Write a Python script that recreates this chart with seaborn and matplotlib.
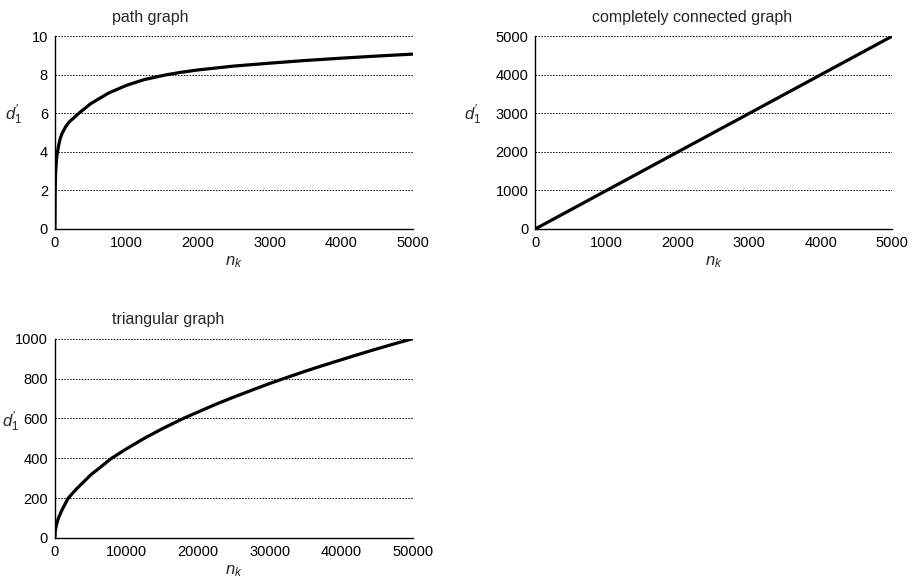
import matplotlib
matplotlib.use("Agg")
import matplotlib.pyplot as plt
import seaborn as sns
import pandas as pd

# --- data ---
path_n = [1, 3, 5, 10, 20, 30, 50, 75, 100, 150, 200, 350, 500, 750, 1000, 1250, 1560, 1750,
          2000, 2500, 3000, 3500, 4000, 4500, 5000]
path_d = [0.0, 1.5, 2.2, 2.9, 3.5, 3.85, 4.3, 4.7, 4.95, 5.3, 5.55, 6.05, 6.5, 7.05, 7.45, 7.75, 8.0, 8.12,
          8.25, 8.45, 8.6, 8.74, 8.86, 8.97, 9.07]

full_n = [0, 1000, 2000, 3000, 4000, 5000]
full_d = [0, 1000, 2000, 3000, 4000, 5000]

tri_n = [0, 50, 100, 200, 500, 1000, 1870, 3000, 5000, 7930, 10000, 12500, 15000, 17960, 20000,
         22500, 25000, 28000, 30000, 32000, 35000, 37500, 40000, 42500, 45000, 47500, 50000]
tri_d = [0, 32, 45, 63, 100, 141, 200, 245, 316, 400, 447, 500, 548, 600, 632,
         671, 707, 748, 775, 800, 837, 866, 894, 922, 949, 975, 1000]

titles = ["path graph", "completely connected graph", "triangular graph"]
x_ticks = [[0, 1000, 2000, 3000, 4000, 5000],
           [0, 1000, 2000, 3000, 4000, 5000],
           [0, 10000, 20000, 30000, 40000, 50000]]
y_ticks = [[0, 2, 4, 6, 8, 10],
           [0, 1000, 2000, 3000, 4000, 5000],
           [0, 200, 400, 600, 800, 1000]]

sns.set_style("white")
plt.rcParams["font.family"] = ["Liberation Sans", "DejaVu Sans"]
plt.rcParams["mathtext.fontset"] = "custom"
plt.rcParams["mathtext.it"] = "Liberation Sans:italic"
plt.rcParams["mathtext.rm"] = "Liberation Sans"

fig = plt.figure(figsize=(9.15, 5.84), dpi=100)
axes = [
    fig.add_axes([0.060, 0.608, 0.391, 0.330]),
    fig.add_axes([0.585, 0.608, 0.390, 0.330]),
    fig.add_axes([0.060, 0.079, 0.391, 0.341]),
]
datasets = [(path_n, path_d), (full_n, full_d), (tri_n, tri_d)]
ylab_off = [-0.115, -0.175, -0.125]
ylab_y = [0.53, 0.53, 0.52]

for i, ax in enumerate(axes):
    n, d = datasets[i]
    df = pd.DataFrame({"n": n, "d": d})
    sns.lineplot(data=df, x="n", y="d", ax=ax, color="black", linewidth=2.3)
    ax.set_xlim(x_ticks[i][0], x_ticks[i][-1])
    ax.set_ylim(y_ticks[i][0], y_ticks[i][-1])
    ax.set_xticks(x_ticks[i])
    ax.set_yticks(y_ticks[i])
    ax.set_xticklabels([str(v) for v in x_ticks[i]], fontsize=10.5)
    ax.set_yticklabels([str(v) for v in y_ticks[i]], fontsize=10.5)
    for s in ["top", "right"]:
        ax.spines[s].set_visible(False)
    for s in ["left", "bottom"]:
        ax.spines[s].set_color("black")
        ax.spines[s].set_linewidth(1.0)
    ax.tick_params(axis="both", direction="out", length=3, width=1, color="black",
                   pad=2, colors="black")
    ax.yaxis.grid(True, linestyle=(0, (1.5, 1.5)), color="black", linewidth=0.7)
    ax.xaxis.grid(False)
    ax.set_axisbelow(True)
    ax.set_xlabel("$n_k$", fontsize=12, labelpad=3)
    ax.set_ylabel("$d_1'$", fontsize=12, rotation=0)
    ax.yaxis.set_label_coords(ylab_off[i], ylab_y[i])
    ax.text(0.16, 1.06, titles[i], transform=ax.transAxes, fontsize=11.5,
            ha="left", va="bottom")

fig.savefig("out.png", dpi=100)
